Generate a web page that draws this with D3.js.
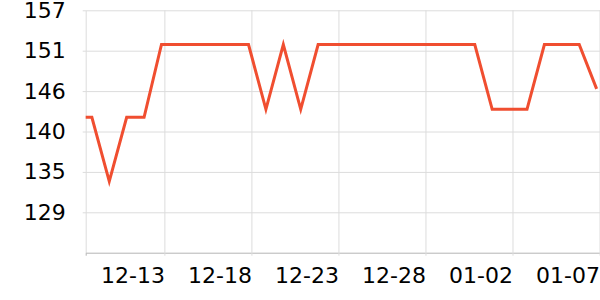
<!DOCTYPE html>
<html>
<head>
<meta charset="utf-8">
<script src="https://cdn.jsdelivr.net/npm/d3@7"></script>
<style>
  html, body { margin: 0; padding: 0; background: #fff; }
  svg { display: block; }
  text { font-family: "DejaVu Sans", sans-serif; }
</style>
</head>
<body>
<svg id="chart" width="600" height="300"></svg>
<script>
// ---- data ----
const dates = [
  "2023-12-07T20:00Z", "2023-12-08T20:00Z", "2023-12-09T20:00Z", "2023-12-10T20:00Z",
  "2023-12-11T20:00Z", "2023-12-12T20:00Z", "2023-12-13T20:00Z", "2023-12-14T20:00Z",
  "2023-12-15T20:00Z", "2023-12-16T20:00Z", "2023-12-17T20:00Z", "2023-12-18T20:00Z",
  "2023-12-19T20:00Z", "2023-12-20T20:00Z", "2023-12-21T20:00Z", "2023-12-22T20:00Z",
  "2023-12-23T20:00Z", "2023-12-24T20:00Z", "2023-12-25T20:00Z", "2023-12-26T20:00Z",
  "2023-12-27T20:00Z", "2023-12-28T20:00Z", "2023-12-29T20:00Z", "2023-12-30T20:00Z",
  "2023-12-31T20:00Z", "2024-01-01T20:00Z", "2024-01-02T20:00Z", "2024-01-03T20:00Z",
  "2024-01-04T20:00Z", "2024-01-05T20:00Z", "2024-01-06T20:00Z"
];
const values = [
  142.3, 142.3, 133.5, 142.3, 142.3, 152.3, 152.3, 152.3,
  152.3, 152.3, 152.3, 143.4, 152.3, 143.4, 152.3, 152.3,
  152.3, 152.3, 152.3, 152.3, 152.3, 152.3, 152.3, 152.3,
  143.4, 143.4, 143.4, 152.3, 152.3, 152.3, 146.2
];
const xDomain = ["2023-12-08T11:30Z", "2024-01-07T00:40Z"];
const xTickDates = ["2023-12-13T00:00Z", "2023-12-18T00:00Z", "2023-12-23T00:00Z",
                    "2023-12-28T00:00Z", "2024-01-02T00:00Z", "2024-01-07T00:00Z"];
const xTickLabels = ["12-13", "12-18", "12-23", "12-28", "01-02", "01-07"];
const yDomain = [123.7, 157];
const yTickValues = [129.25, 134.8, 140.35, 145.9, 151.45, 157];
const yTickLabels = ["129", "135", "140", "146", "151", "157"];

// ---- layout ----
const margin = { left: 85.7, top: 10.3, right: 0, bottom: 47.3 };
const W = 600, H = 300;
const plotW = W - margin.left - margin.right;
const plotH = H - margin.top - margin.bottom;

const svg = d3.select("#chart");
const g = svg.append("g").attr("transform", `translate(${margin.left},${margin.top})`);

const x = d3.scaleUtc()
  .domain(xDomain.map(d => new Date(d)))
  .range([0, plotW]);
const y = d3.scaleLinear().domain(yDomain).range([plotH, 0]);

const gridColor = "#dcdcdc";
const axisColor = "#b4b4b4";

// y axis + horizontal grid
const yAxis = d3.axisLeft(y)
  .tickValues(yTickValues)
  .tickFormat((d, i) => yTickLabels[i])
  .tickSizeInner(-plotW)
  .tickSizeOuter(0)
  .tickPadding(20);
const gy = g.append("g").call(yAxis);
gy.select(".domain").attr("stroke", gridColor);
gy.selectAll(".tick line").attr("stroke", gridColor).attr("x1", -3);
gy.selectAll(".tick text")
  .attr("fill", "#000")
  .style("font-size", "22px")
  .style("font-family", "DejaVu Sans, sans-serif");

// x axis + vertical grid
const tickDates = xTickDates.map(d => new Date(d));
const xAxis = d3.axisBottom(x)
  .tickValues(tickDates)
  .tickFormat((d, i) => xTickLabels[i])
  .tickSizeInner(-plotH)
  .tickSizeOuter(3)
  .tickPadding(30);
const gx = g.append("g").attr("transform", `translate(0,${plotH})`).call(xAxis);
gx.select(".domain").attr("stroke", axisColor);
gx.selectAll(".tick line").attr("stroke", gridColor).attr("y1", 3);
gx.selectAll(".tick text")
  .attr("fill", "#000")
  .attr("text-anchor", "end")
  .attr("dy", "0")
  .style("font-size", "22px")
  .style("font-family", "DejaVu Sans, sans-serif");
gx.raise();

// clip
svg.append("defs").append("clipPath").attr("id", "clip")
  .append("rect").attr("x", 0).attr("y", -margin.top).attr("width", plotW).attr("height", H);

// line
const data = dates.map((d, i) => ({ t: new Date(d), v: values[i] }));
const line = d3.line().x(d => x(d.t)).y(d => y(d.v));
g.append("path")
  .datum(data)
  .attr("clip-path", "url(#clip)")
  .attr("fill", "none")
  .attr("stroke", "#f04e30")
  .attr("stroke-width", 3)
  .attr("stroke-linejoin", "miter")
  .attr("d", line);
</script>
</body>
</html>
